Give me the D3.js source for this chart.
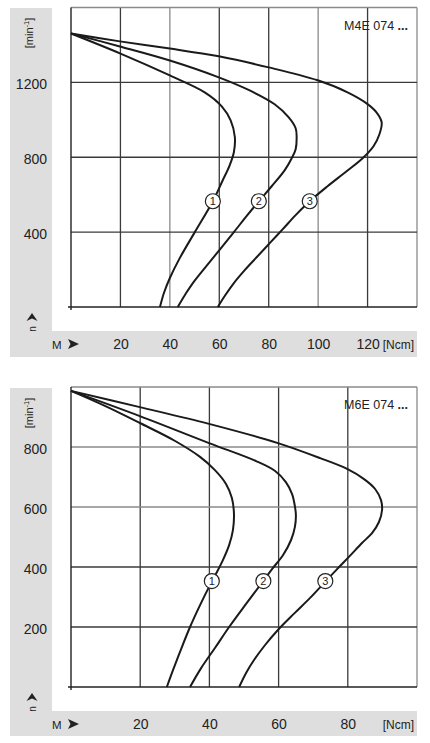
<!DOCTYPE html>
<html><head><meta charset="utf-8">
<script src="https://cdn.jsdelivr.net/npm/d3@7"></script>
<style>
body{margin:0;background:#fff}
svg{display:block}
text{font-family:"Liberation Sans",Arial,Helvetica,sans-serif;fill:#222}
</style>
</head><body>
<svg id="c" width="430" height="743"></svg>
<script>
// ---------- data ----------
const topXTicks = [20, 40, 60, 80, 100, 120];
const topYTicks = [400, 800, 1200];
const topModel = "M4E 074";
const topCurve1 = [[0,1461],[19.8,1355],[40,1237],[54.1,1147],[61,1072],[64.6,997],[66.3,907],[65.9,827],[64.2,757],[61.4,677],[57.4,565],[50.1,400],[44,261],[40,155],[37.6,75],[36,0]];
const topCurve2 = [[0,1461],[19.8,1392],[40,1317],[59.8,1227],[72.3,1157],[82.4,1083],[88.1,1013],[90.9,955],[91.3,907],[90.9,843],[89.3,795],[86.5,731],[81.2,645],[76,565],[70.7,480],[65.9,400],[57.4,261],[49.3,128],[46.1,64],[43.2,0]];
const topCurve3 = [[0,1461],[19.8,1419],[40,1381],[59.8,1339],[80,1280],[99.8,1211],[111.9,1147],[119.6,1088],[123.6,1040],[125.7,987],[124.8,923],[122.4,859],[118,795],[111.5,725],[103.8,645],[96.6,565],[90.9,491],[85.7,416],[80.4,341],[75.2,267],[70.3,197],[65.9,128],[62.2,59],[59.4,0]];
const topMarkers = [[57.4,565],[76,565],[96.6,565]];

const botXTicks = [20, 40, 60, 80];
const botYTicks = [200, 400, 600, 800];
const botModel = "M6E 074";
const botCurve1 = [[0,987],[9.8,937],[19.9,880],[30.1,820],[37.3,767],[41.6,723],[44.8,677],[46.5,630],[47.1,577],[46.8,523],[45.7,473],[43.9,423],[41.9,377],[40.5,347],[37.3,273],[34.4,200],[31.5,117],[29.5,57],[27.7,0]];
const botCurve2 = [[0,987],[19.9,903],[39.9,813],[53.5,753],[59,720],[62.1,683],[63.9,643],[64.7,603],[65,573],[64.7,533],[63.6,490],[61.3,440],[58.1,393],[55.8,357],[50.6,277],[45.7,200],[41.6,130],[37.6,63],[34.4,0]];
const botCurve3 = [[0,987],[19.9,933],[39.9,877],[59.8,813],[72,763],[79.8,727],[84.7,693],[87.9,660],[89.6,623],[89.9,590],[89,550],[87,513],[84.1,480],[80.6,437],[76.9,393],[73.4,350],[69.1,297],[64.7,247],[59.8,190],[56.1,140],[52.9,90],[50.6,47],[48.6,0]];
const botMarkers = [[40.7,353],[55.6,353],[73.5,353]];

const markerLabels = ["1", "2", "3"];
const unitY = "[min", unitYSup = "-1", unitYEnd = "]";
const unitX = "[Ncm]";

// ---------- layout ----------
const svg = d3.select("#c");
const charts = [
  {xTicks: topXTicks, yTicks: topYTicks, model: topModel, curves: [topCurve1, topCurve2, topCurve3], markers: topMarkers,
   xMax: 140, yMax: 1600, yStep: 400, left: 71, right: 417, top: 7.5, bottom: 307,
   panelTop: 8, panelBottom: 357, stripTop: 331, lightV: [40, 100], lightH: []},
  {xTicks: botXTicks, yTicks: botYTicks, model: botModel, curves: [botCurve1, botCurve2, botCurve3], markers: botMarkers,
   xMax: 100, yMax: 1000, yStep: 200, left: 71, right: 417, top: 387, bottom: 687,
   panelTop: 388, panelBottom: 736, stripTop: 711, lightV: [], lightH: [600, 800]}
];

charts.forEach(c => {
  const g = svg.append("g");
  const x = d3.scaleLinear().domain([0, c.xMax]).range([c.left, c.right]);
  const y = d3.scaleLinear().domain([0, c.yMax]).range([c.bottom, c.top]);

  // grey panels
  g.append("rect").attr("x", 10).attr("y", c.panelTop).attr("width", 42).attr("height", c.panelBottom - c.panelTop).attr("fill", "#dedede");
  g.append("rect").attr("x", 10).attr("y", c.stripTop).attr("width", c.right - 10).attr("height", c.panelBottom - c.stripTop).attr("fill", "#dedede");

  // grid
  const vVals = d3.range(20, c.xMax + 1, 20);
  const hVals = d3.range(c.yStep, c.yMax + 1, c.yStep);
  vVals.forEach(v => {
    const light = c.lightV.includes(v) || v === c.xMax;
    g.append("line").attr("x1", x(v)).attr("x2", x(v)).attr("y1", y(c.yMax)).attr("y2", y(0))
      .attr("stroke", light ? "#8a8a8a" : "#3a3a3a").attr("stroke-width", 1.3);
  });
  hVals.forEach(v => {
    const light = c.lightH.includes(v) || v === c.yMax;
    g.append("line").attr("x1", x(0)).attr("x2", x(c.xMax)).attr("y1", y(v)).attr("y2", y(v))
      .attr("stroke", light ? "#8a8a8a" : "#3a3a3a").attr("stroke-width", 1.3);
  });
  // axes lines
  g.append("line").attr("x1", x(0)).attr("x2", x(0)).attr("y1", y(c.yMax)).attr("y2", y(0) + 3).attr("stroke", "#222").attr("stroke-width", 1.4);
  g.append("line").attr("x1", x(0) - 3).attr("x2", x(c.xMax)).attr("y1", y(0)).attr("y2", y(0)).attr("stroke", "#222").attr("stroke-width", 1.4);

  // curves
  const line = d3.line().x(d => x(d[0])).y(d => y(d[1])).curve(d3.curveCatmullRom.alpha(0.5));
  c.curves.forEach(cv => {
    g.append("path").attr("d", line(cv)).attr("fill", "none").attr("stroke", "#1a1a1a").attr("stroke-width", 2);
  });

  // markers
  c.markers.forEach((m, i) => {
    g.append("circle").attr("cx", x(m[0])).attr("cy", y(m[1])).attr("r", 7.5).attr("fill", "#fff").attr("stroke", "#222").attr("stroke-width", 1.2);
    g.append("text").attr("x", x(m[0])).attr("y", y(m[1]) + 4).attr("text-anchor", "middle").attr("font-size", 11).text(markerLabels[i]);
  });

  // model label
  const t = g.append("text").attr("x", 408).attr("y", c.top + 22).attr("text-anchor", "end").attr("font-size", 12.5);
  t.append("tspan").text(c.model + " ");
  t.append("tspan").attr("font-weight", "bold").text("...");

  // y axis labels
  const ya = g.append("g").attr("transform", `translate(47,0)`)
    .call(d3.axisLeft(y).tickValues(c.yTicks).tickFormat(d3.format("d")).tickSize(0).tickPadding(0));
  ya.select(".domain").remove();
  ya.selectAll("text").attr("font-size", 14).attr("x", 0).attr("dy", "0.47em").attr("fill", "#222");
  ya.attr("font-family", null).attr("font-size", null);

  // x axis labels
  const baseX = c.bottom + 42;
  const xa = g.append("g").attr("transform", `translate(0,${baseX})`)
    .call(d3.axisBottom(x).tickValues(c.xTicks).tickFormat(d3.format("d")).tickSize(0).tickPadding(0));
  xa.select(".domain").remove();
  xa.selectAll("text").attr("font-size", 14).attr("y", 0).attr("dy", 0).attr("fill", "#222");
  xa.attr("font-family", null).attr("font-size", null);

  g.append("text").attr("x", 414).attr("y", baseX - 0.5).attr("text-anchor", "end").attr("font-size", 12).text(unitX);

  // unit y rotated
  const ucy = c.panelTop + 25;
  const ut = g.append("text").attr("transform", `translate(33,${ucy}) rotate(-90)`).attr("text-anchor", "middle").attr("font-size", 11);
  ut.append("tspan").text(unitY);
  ut.append("tspan").attr("font-size", 7.5).attr("dy", -4).text(unitYSup);
  ut.append("tspan").attr("dy", 4).text(unitYEnd);

  // n arrow
  const ay = c.bottom + 6;
  g.append("path").attr("d", `M32,${ay} L37.5,${ay + 8} L32,${ay + 5.5} L26.5,${ay + 8} Z`).attr("fill", "#222");
  g.append("text").attr("transform", `translate(35.5,${ay + 16}) rotate(-90)`).attr("text-anchor", "middle").attr("font-size", 10).text("n");

  // M arrow
  g.append("text").attr("x", 52).attr("y", baseX - 0.5).attr("font-size", 11.5).text("M");
  g.append("path").attr("d", `M68,${baseX - 10} L79,${baseX - 5} L68,${baseX} L70.5,${baseX - 5} Z`).attr("fill", "#222");
});
</script>
</body></html>
